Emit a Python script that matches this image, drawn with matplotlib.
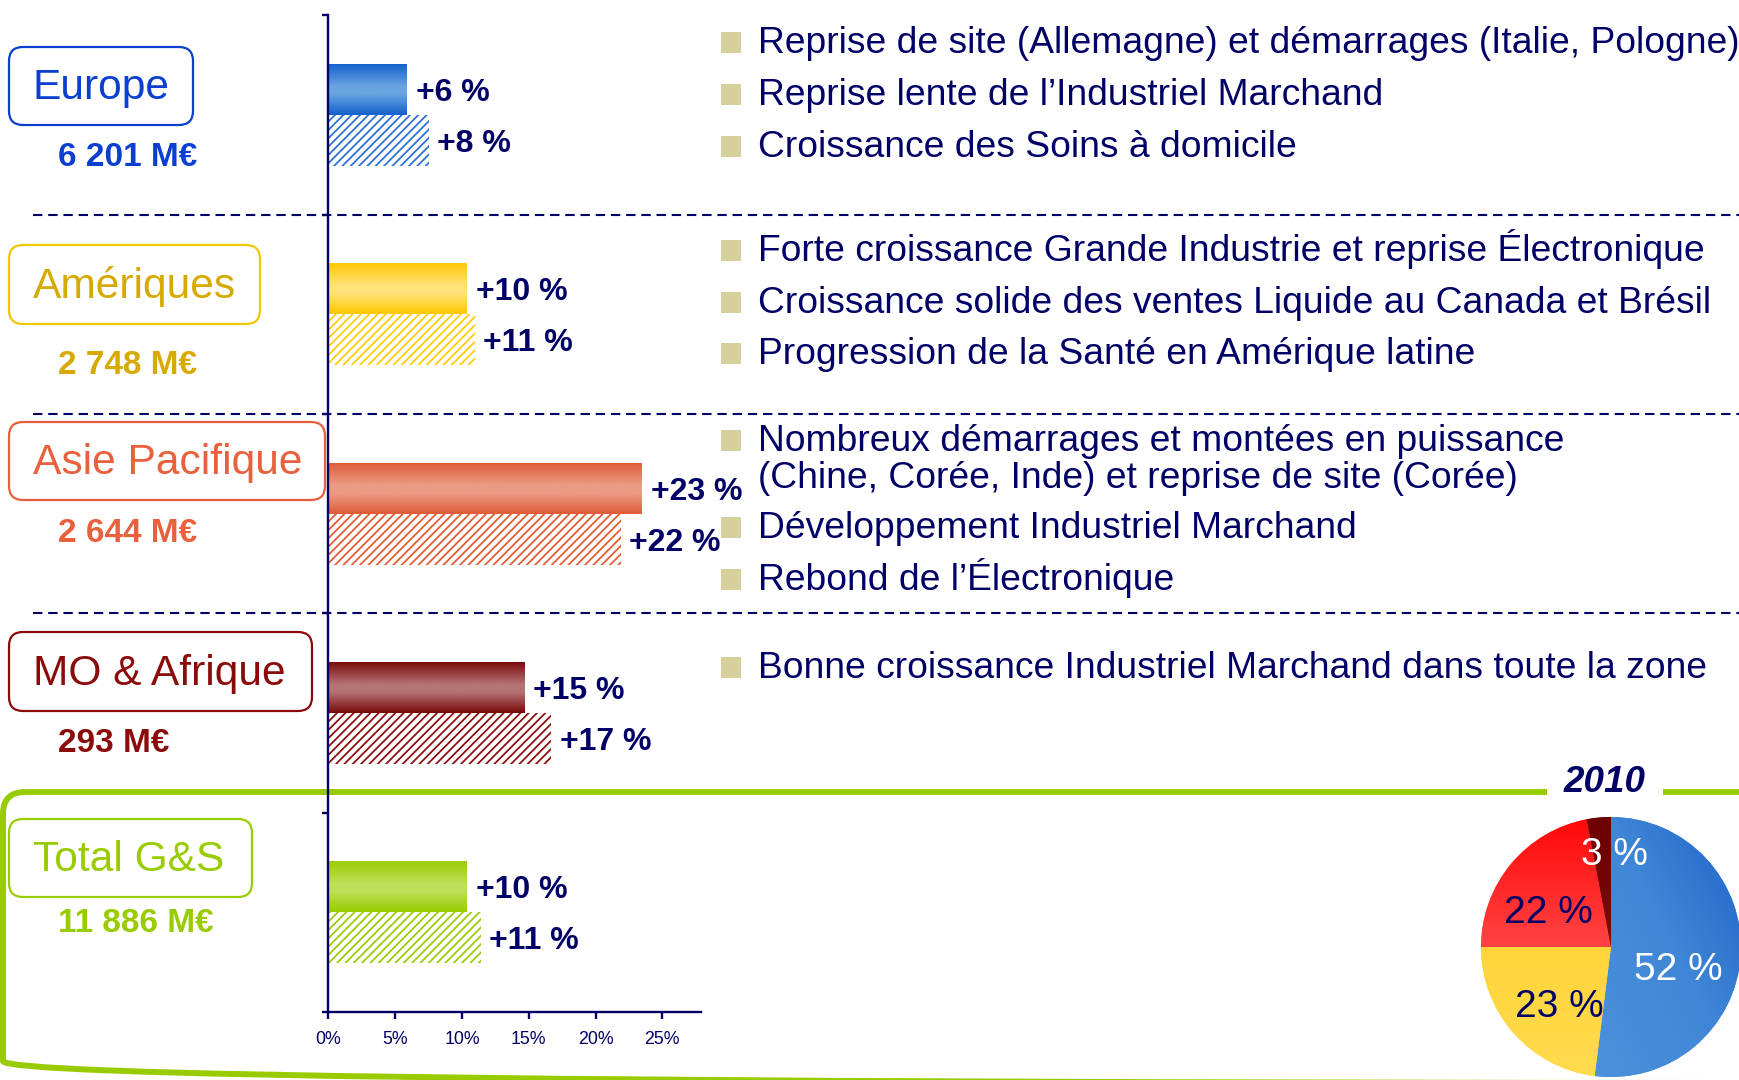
import numpy as np
import matplotlib
matplotlib.use('Agg')
import matplotlib.pyplot as plt
from matplotlib.patches import FancyBboxPatch, Rectangle
from matplotlib.colors import LinearSegmentedColormap
from matplotlib.lines import Line2D
import matplotlib.transforms as mtransforms

plt.rcParams['font.family'] = ['Liberation Sans', 'DejaVu Sans']
plt.rcParams['hatch.linewidth'] = 1.25

# ---------------- data ----------------
regions = ['Europe', 'Amériques', 'Asie Pacifique', 'MO & Afrique', 'Total G&S']
sales = ['6 201 M€', '2 748 M€', '2 644 M€', '293 M€', '11 886 M€']
growth_a = [5.9, 10.4, 23.5, 14.7, 10.4]      # solid (gradient) bars
growth_b = [7.5, 10.95, 21.9, 16.7, 11.4]     # hatched bars
labels_a = ['+6 %', '+10 %', '+23 %', '+15 %', '+10 %']
labels_b = ['+8 %', '+11 %', '+22 %', '+17 %', '+11 %']
xticks = [0, 5, 10, 15, 20, 25]
xticklabels = ['0%', '5%', '10%', '15%', '20%', '25%']
comments = [
    ['Reprise de site (Allemagne) et démarrages (Italie, Pologne)',
     'Reprise lente de l\u2019Industriel Marchand',
     'Croissance des Soins à domicile'],
    ['Forte croissance Grande Industrie et reprise Électronique',
     'Croissance solide des ventes Liquide au Canada et Brésil',
     'Progression de la Santé en Amérique latine'],
    ['Nombreux démarrages et montées en puissance\n(Chine, Corée, Inde) et reprise de site (Corée)',
     'Développement Industriel Marchand',
     'Rebond de l\u2019Électronique'],
    ['Bonne croissance Industriel Marchand dans toute la zone'],
]
pie_values = [52, 23, 22, 3]
pie_labels = ['52 %', '23 %', '22 %', '3 %']
pie_year = '2010'

# ---------------- styles ----------------
NAVY = '#000066'
text_cols = ['#0A3FD0', '#D6AA00', '#E8603C', '#8B0A0A', '#99CC00']
box_cols = ['#0A3FD0', '#F2C600', '#E8603C', '#8B0A0A', '#99CC00']
bar_edge = ['#1260CC', '#FFC800', '#E05A36', '#780808', '#99CC00']
bar_mid = ['#6AA5E2', '#FFE27A', '#EB9C84', '#B57474', '#BEDF5A']
hatch_cols = ['#2A6FD2', '#FFCC00', '#E2582F', '#8B0A0A', '#99CC00']
BULLET = '#D6D09C'

W, H = 1740, 1080
fig = plt.figure(figsize=(W / 100, H / 100), dpi=100)
fig.patch.set_facecolor('white')

ov = fig.add_axes([0, 0, 1, 1], zorder=0)
ov.set_xlim(0, W)
ov.set_ylim(H, 0)
ov.set_autoscale_on(False)
ov.axis('off')

# ---------------- bar chart ----------------
ax_l, ax_r, ax_t, ax_b = 328.5, 701, 15.5, 1012
ax = fig.add_axes([ax_l / W, 1 - ax_b / H, (ax_r - ax_l) / W, (ax_b - ax_t) / H], zorder=2)
ax.set_facecolor('none')

y = np.arange(len(regions))
h = 0.256
bars_a = ax.barh(y - h / 2, growth_a, height=h, color=bar_edge, linewidth=0, zorder=2)
bars_b = ax.barh(y + h / 2, growth_b, height=h, color='white', edgecolor=hatch_cols,
                 hatch='////', linewidth=0, zorder=2)

grad = np.linspace(0, 1, 128).reshape(-1, 1)
for bar, c0, c1 in zip(bars_a, bar_edge, bar_mid):
    cmap = LinearSegmentedColormap.from_list('g', [(0, c0), (0.45, c1), (0.6, c1), (1, c0)])
    x0, y0 = bar.get_x(), bar.get_y()
    w, hh = bar.get_width(), bar.get_height()
    im = ax.imshow(grad, extent=(x0, x0 + w, y0 + hh, y0), aspect='auto', cmap=cmap,
                   zorder=2.5, interpolation='bilinear')
    im.set_clip_path(bar)

for bars, labs in ((bars_a, labels_a), (bars_b, labels_b)):
    for bar, lab in zip(bars, labs):
        ax.annotate(lab, (bar.get_width(), bar.get_y() + bar.get_height() / 2),
                    xytext=(6, -2.5), textcoords='offset points', ha='left', va='center',
                    fontsize=23, fontweight='bold', color=NAVY, zorder=4,
                    annotation_clip=False)

ax.set_xlim(0, 27.9)
ax.set_ylim(len(regions) - 0.5, -0.5)
ax.set_aspect('auto')
for s in ['top', 'right']:
    ax.spines[s].set_visible(False)
for s in ['left', 'bottom']:
    ax.spines[s].set_color(NAVY)
    ax.spines[s].set_linewidth(1.7)
ax.set_xticks(xticks)
ax.set_xticklabels(xticklabels)
ax.tick_params(axis='x', colors=NAVY, length=5, width=1.7, labelsize=12.8, pad=9)
ax.set_yticks(np.arange(-0.5, len(regions), 1.0))
ax.set_yticklabels([])
ax.tick_params(axis='y', colors=NAVY, length=4, width=1.7)

# dashed separators
trans = mtransforms.blended_transform_factory(ov.transData, ax.transData)
for yb in np.arange(0.5, len(regions) - 1.5, 1.0):
    fig.add_artist(Line2D([33, W], [yb, yb], transform=trans, color=NAVY, lw=1.5,
                          dashes=(4.5, 2.8), zorder=1))

# ---------------- green total frame ----------------
ov.add_patch(FancyBboxPatch((3, 792), W + 40, 291, boxstyle='round,pad=0,rounding_size=22',
                            fill=False, ec='#99CC00', lw=4.3, zorder=1))
ov.text(1605, 782, pie_year, ha='center', va='center', fontsize=26.5, fontweight='bold',
        fontstyle='italic', color=NAVY, zorder=3,
        bbox=dict(boxstyle='square,pad=0.45', fc='white', ec='none'))

# ---------------- region boxes ----------------
box_rects = [(9, 47, 184, 78), (9, 245, 251, 79), (9, 422, 316, 78),
             (9, 632, 303, 79), (9, 819, 243, 78)]
sales_y = [157, 365, 533, 742, 923]
for i, name in enumerate(regions):
    bx, by, bw, bh = box_rects[i]
    ov.add_patch(FancyBboxPatch((bx, by), bw, bh, boxstyle='round,pad=0,rounding_size=14',
                                fill=True, fc='white', ec=box_cols[i], lw=1.6, zorder=2))
    ov.text(33, by + bh / 2 + 2, name, ha='left', va='center', fontsize=30.6,
            color=text_cols[i], zorder=3)
    ov.text(58, sales_y[i] + 1, sales[i], ha='left', va='center', fontsize=24,
            fontweight='bold', color=text_cols[i], zorder=3)

# ---------------- bullet comments ----------------
bullet_y = [[42, 94, 146], [250, 302, 353], [440, 527, 579], [667]]
line_gap = 37
for grp, ys in zip(comments, bullet_y):
    for txt, yc in zip(grp, ys):
        ov.add_patch(Rectangle((721, yc - 10.5), 20, 21, fc=BULLET, ec='none', zorder=2))
        for k, line in enumerate(txt.split('\n')):
            ov.text(758, yc + 11 + k * line_gap, line, ha='left', va='baseline',
                    fontsize=26.8, color=NAVY, zorder=3)

# ---------------- pie ----------------
R, cx, cy = 130, 1611, 947
axp = fig.add_axes([(cx - R) / W, 1 - (cy + R) / H, 2 * R / W, 2 * R / H], zorder=3)
pie_base = ['#4A90DA', '#FFCD1A', '#FF4A4A', '#7E1010']
wedges, _ = axp.pie(pie_values, colors=pie_base, startangle=90, counterclock=False,
                    radius=1, wedgeprops=dict(linewidth=0))
gx, gy = np.meshgrid(np.linspace(-1, 1, 200), np.linspace(-1, 1, 200))
fields = [
    (gx * 0.9 + gy * 0.45, ['#4F95DD', '#4A90DA', '#3F86D6', '#1E64C8']),
    (-gy, ['#FFC700', '#FFD53A', '#FFDB4E']),
    (-gy, ['#FF0808', '#FF4444', '#FF6A6A']),
    (-gy, ['#6E0000', '#7C0A0A', '#8E2424']),
]
for wdg, (fld, cols) in zip(wedges, fields):
    cm = LinearSegmentedColormap.from_list('p', cols)
    im = axp.imshow(fld, extent=(-1, 1, -1, 1), origin='lower', cmap=cm,
                    interpolation='bilinear', zorder=2)
    im.set_clip_path(wdg)
pie_text_pos = [(0.52, -0.18), (-0.40, -0.46), (-0.48, 0.26), (0.03, 0.71)]
pie_text_col = ['white', NAVY, NAVY, 'white']
for lab, (tx, ty), c in zip(pie_labels, pie_text_pos, pie_text_col):
    axp.text(tx, ty, lab, ha='center', va='center', fontsize=28, color=c, zorder=5)
axp.set_xlim(-1, 1)
axp.set_ylim(-1, 1)
axp.set_aspect('equal')
axp.axis('off')

fig.savefig('out.png', dpi=100, facecolor='white')
